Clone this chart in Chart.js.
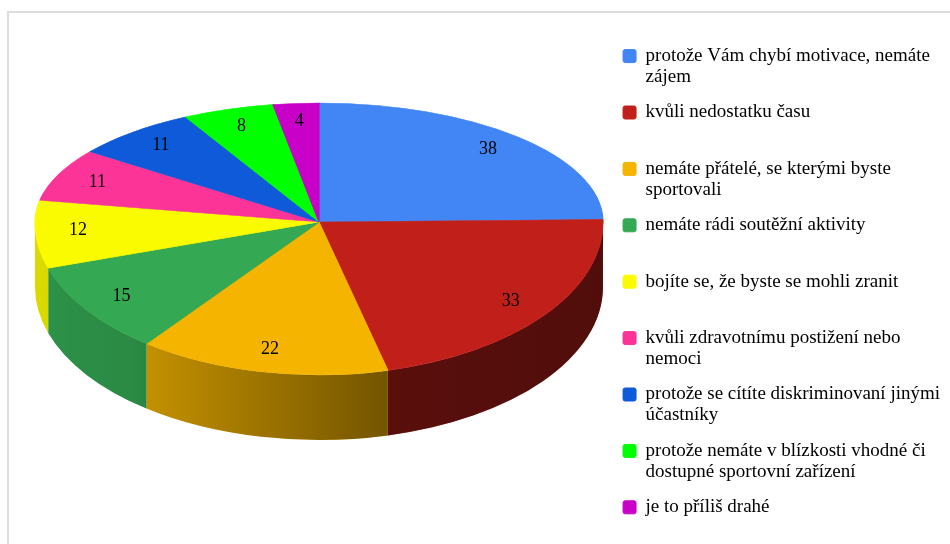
<!DOCTYPE html>
<html><head><meta charset="utf-8">
<script src="https://cdn.jsdelivr.net/npm/chart.js@4.4.1/dist/chart.umd.min.js"></script>
<style>
html,body{margin:0;padding:0;background:#fff;}
#wrap{position:relative;width:950px;height:544px;overflow:hidden;}
#frame{position:absolute;left:7px;top:11px;width:1000px;height:600px;border-top:2px solid #dcdcdc;border-left:2px solid #dcdcdc;}
canvas{position:absolute;left:0;top:0;}
</style></head><body>
<div id="wrap"><div id="frame"></div><canvas id="c" width="950" height="544"></canvas></div>
<script>
// Categories (legend labels, split into lines as in the reference)
const categories = [
  ["protože Vám chybí motivace, nemáte", "zájem"],
  ["kvůli nedostatku času", ""],
  ["nemáte přátelé, se kterými byste", "sportovali"],
  ["nemáte rádi soutěžní aktivity", ""],
  ["bojíte se, že byste se mohli zranit", ""],
  ["kvůli zdravotnímu postižení nebo", "nemoci"],
  ["protože se cítíte diskriminovaní jinými", "účastníky"],
  ["protože nemáte v blízkosti vhodné či", "dostupné sportovní zařízení"],
  "je to příliš drahé"
];
const counts = [38, 33, 22, 15, 12, 11, 11, 8, 4];
const colors = ['#4285F4', '#C1201A', '#F4B400', '#34A853', '#FBFB00', '#FC3497', '#0E5AD8', '#00FF00', '#C800C8'];

// 3D geometry of the tilted pie (screen space)
const GEO = { cx: 319, cy: 222, rx: 284, ryBack: 119, ryFront: 153, depth: 65, labelF: 0.85 };

const pie3d = {
  id: 'pie3d',
  beforeDatasetsDraw(chart) {
    const ctx = chart.ctx;
    const meta = chart.getDatasetMeta(0);
    const arcs = meta.data;
    if (!arcs.length) return false;
    const R = arcs[0].outerRadius, ox = arcs[0].x, oy = arcs[0].y;
    const {cx, cy, rx, ryBack, ryFront, depth, labelF} = GEO;
    const bg = chart.data.datasets[0].backgroundColor;

    // side walls (front half only)
    const shade = ctx.createLinearGradient(cx - rx, 0, cx + rx, 0);
    shade.addColorStop(0, 'rgba(0,0,0,0.13)');
    shade.addColorStop(0.17, 'rgba(0,0,0,0.18)');
    shade.addColorStop(0.64, 'rgba(0,0,0,0.54)');
    shade.addColorStop(1, 'rgba(0,0,0,0.58)');
    arcs.forEach((arc, i) => {
      const s = arc.startAngle, e = arc.endAngle;
      for (let k = -1; k <= 1; k++) {
        const lo = Math.max(s, k * 2 * Math.PI), hi = Math.min(e, k * 2 * Math.PI + Math.PI);
        if (hi > lo) {
          ctx.save();
          ctx.beginPath();
          ctx.ellipse(cx, cy, rx, ryFront, 0, lo, hi, false);
          ctx.ellipse(cx, cy + depth, rx, ryFront, 0, hi, lo, true);
          ctx.closePath();
          ctx.fillStyle = bg[i]; ctx.fill();
          ctx.fillStyle = shade; ctx.fill();
          ctx.restore();
        }
      }
    });

    // top face: back half and front half with different vertical scale
    const face = (ry, y0, y1) => {
      ctx.save();
      ctx.beginPath(); ctx.rect(0, y0, chart.width, y1 - y0); ctx.clip();
      ctx.translate(cx, cy); ctx.scale(rx / R, ry / R); ctx.translate(-ox, -oy);
      meta.controller.draw();
      ctx.restore();
    };
    face(ryBack, 0, cy + 0.5);
    face(ryFront, cy - 0.5, chart.height);

    // value labels
    ctx.save();
    ctx.font = '18px "Liberation Serif"';
    ctx.fillStyle = '#000';
    ctx.textAlign = 'center';
    ctx.textBaseline = 'middle';
    const data = chart.data.datasets[0].data;
    arcs.forEach((arc, i) => {
      const mid = (arc.startAngle + arc.endAngle) / 2;
      const sn = Math.sin(mid), cs = Math.cos(mid);
      const x = cx + labelF * rx * cs;
      const y = cy + labelF * (sn > 0 ? ryFront : ryBack) * sn;
      ctx.fillText(String(data[i]), x, y);
    });
    ctx.restore();
    return false;
  }
};

new Chart(document.getElementById('c'), {
  type: 'pie',
  data: {
    labels: categories,
    datasets: [{
      data: counts,
      backgroundColor: colors,
      borderColor: colors,
      borderWidth: 1
    }]
  },
  options: {
    responsive: false,
    animation: false,
    events: [],
    layout: { padding: { top: 32, right: 0, bottom: 0, left: 0 } },
    plugins: {
      tooltip: { enabled: false },
      legend: {
        position: 'right',
        align: 'start',
        labels: {
          color: '#000',
          font: { family: '"Liberation Serif"', size: 19, lineHeight: 1.1 },
          boxWidth: 13,
          boxHeight: 13,
          padding: 14.6,
          useBorderRadius: true,
          borderRadius: 2
        }
      }
    }
  },
  plugins: [pie3d]
});
</script>
</body></html>
